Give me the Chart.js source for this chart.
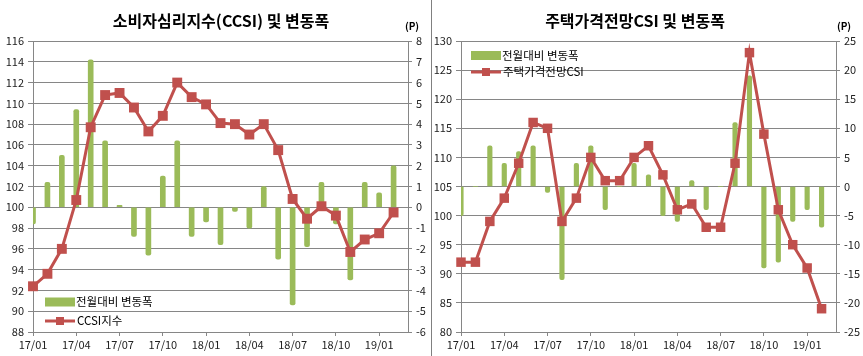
<!DOCTYPE html>
<html>
<head>
<meta charset="utf-8">
<script src="https://cdn.jsdelivr.net/npm/chart.js@4"></script>
<style>
html,body{margin:0;padding:0;background:#fff;}
#wrap{position:relative;width:863px;height:356px;overflow:hidden;background:#fff;}
#c1{position:absolute;left:0;top:0;}
#c2{position:absolute;left:432px;top:0;}
#sep{position:absolute;left:431px;top:0;width:1px;height:356px;background:#808080;}
</style>
</head>
<body>
<div id="wrap">
<canvas id="c1" width="430" height="356"></canvas>
<div id="sep"></div>
<canvas id="c2" width="431" height="356"></canvas>
</div>
<script>
// ---- data ----
const months = ['17/01','17/02','17/03','17/04','17/05','17/06','17/07','17/08','17/09','17/10','17/11','17/12',
                '18/01','18/02','18/03','18/04','18/05','18/06','18/07','18/08','18/09','18/10','18/11','18/12',
                '19/01','19/02','19/03'];
const tickLabels = ['17/01','17/04','17/07','17/10','18/01','18/04','18/07','18/10','19/01'];

const ccsiIndex = [92.4, 93.6, 96.0, 100.7, 107.7, 110.8, 111.0, 109.6, 107.3, 108.8, 112.0, 110.6,
                   109.9, 108.1, 108.0, 107.0, 108.0, 105.5, 100.8, 98.9, 100.1, 99.2, 95.7, 96.9,
                   97.5, 99.5];
const ccsiChange = [-0.8, 1.2, 2.5, 4.7, 7.1, 3.2, 0.1, -1.4, -2.3, 1.5, 3.2, -1.4,
                    -0.7, -1.8, -0.2, -1.0, 1.0, -2.5, -4.7, -1.9, 1.2, -0.8, -3.5, 1.2,
                    0.7, 2.0];

const housingIndex = [92, 92, 99, 103, 109, 116, 115, 99, 103, 110, 106, 106,
                      110, 112, 107, 101, 102, 98, 98, 109, 128, 114, 101, 95,
                      91, 84];
const housingChange = [-5, 0, 7, 4, 6, 7, -1, -16, 4, 7, -4, 0,
                       4, 2, -5, -6, 1, -4, 0, 11, 19, -14, -13, -6,
                       -4, -7];

const leftTitle = '소비자심리지수(CCSI) 및 변동폭';
const rightTitle = '주택가격전망CSI 및 변동폭';
const barLabel = '전월대비 변동폭';
const ccsiLabel = 'CCSI지수';
const housingLabel = '주택가격전망CSI';
const unitLabel = '(P)';

// ---- style ----
const GREEN = '#9BBB59';
const RED = '#C0504D';
const GRID = '#868686';
const FONT = '"Noto Sans CJK KR", "Noto Sans", sans-serif';
const tickFont = {family: FONT, size: 11};

const overlay = {
  id: 'overlay',
  afterDraw(chart, args, o) {
    const ctx = chart.ctx;
    ctx.save();
    ctx.fillStyle = '#000';
    ctx.textBaseline = 'middle';
    ctx.textAlign = 'center';
    ctx.font = 'bold 16px ' + FONT;
    ctx.fillText(o.title, o.titleX, o.titleY);
    ctx.font = 'bold 10px ' + FONT;
    ctx.fillText(unitLabel, o.unitX, o.unitY);
    // legend
    const ds = chart.data.datasets;
    const barDs = ds[1], lineDs = ds[0];
    ctx.textAlign = 'left';
    ctx.font = '11.5px ' + FONT;
    ctx.fillStyle = barDs.backgroundColor;
    ctx.fillRect(o.legX, o.legY1 - 4.5, 30, 9);
    ctx.fillStyle = '#000';
    ctx.fillText(barDs.label, o.legX + 31, o.legY1);
    ctx.strokeStyle = lineDs.borderColor;
    ctx.lineWidth = 3;
    ctx.beginPath();
    ctx.moveTo(o.legX, o.legY2);
    ctx.lineTo(o.legX + 30, o.legY2);
    ctx.stroke();
    ctx.fillStyle = lineDs.borderColor;
    ctx.fillRect(o.legX + 11, o.legY2 - 4, 8, 8);
    ctx.fillStyle = '#000';
    ctx.fillText(lineDs.label, o.legX + 32, o.legY2);
    ctx.restore();
  }
};

function xCallback(value, index) {
  const l = months[index];
  return tickLabels.includes(l) ? l : null;
}

function makeChart(id, cfg) {
  return new Chart(document.getElementById(id), {
    type: 'bar',
    data: {
      labels: months,
      datasets: [
        {
          type: 'line', label: cfg.lineLabel, data: cfg.lineData, yAxisID: 'y', order: 0,
          borderColor: RED, backgroundColor: RED, borderWidth: 3, tension: 0,
          pointStyle: 'rect', pointRadius: cfg.pointRadius, pointBackgroundColor: RED,
          pointBorderWidth: 0, clip: false
        },
        {
          type: 'bar', label: barLabel, data: cfg.barData, yAxisID: 'y1', order: 1,
          backgroundColor: GREEN, barThickness: cfg.barThickness, borderRadius: 2
        }
      ]
    },
    options: {
      responsive: false,
      animation: false,
      events: [],
      layout: {padding: {top: 41, left: 0, right: 0, bottom: 0}},
      plugins: {
        legend: {display: false},
        tooltip: {enabled: false},
        title: {display: false},
        overlay: cfg.overlay
      },
      scales: {
        x: {
          type: 'category', offset: false,
          grid: {display: true, offset: false, drawOnChartArea: false, drawTicks: true, tickLength: 4, color: GRID},
          border: {display: true, color: GRID},
          ticks: {autoSkip: false, maxRotation: 0, minRotation: 0, padding: 2, font: tickFont, color: '#222', callback: xCallback},
          afterFit: s => { s.height = 24; }
        },
        y: {
          position: 'left', min: cfg.yMin, max: cfg.yMax,
          ticks: {stepSize: cfg.yStep, padding: 4, font: tickFont, color: '#222'},
          grid: {color: GRID, tickLength: 5, drawTicks: true},
          border: {display: true, color: GRID},
          afterFit: s => { s.width = cfg.leftW; }
        },
        y1: {
          position: 'right', min: cfg.y1Min, max: cfg.y1Max,
          ticks: {stepSize: cfg.y1Step, padding: 4, font: tickFont, color: '#222'},
          grid: {drawOnChartArea: false, tickLength: 4, drawTicks: true, color: GRID},
          border: {display: true, color: GRID},
          afterFit: s => { s.width = cfg.rightW; }
        }
      }
    },
    plugins: [overlay]
  });
}

makeChart('c1', {
  lineLabel: ccsiLabel, lineData: ccsiIndex, barData: ccsiChange,
  pointRadius: 7, barThickness: 5,
  yMin: 88, yMax: 116, yStep: 2, y1Min: -6, y1Max: 8, y1Step: 1,
  leftW: 33, rightW: 22,
  overlay: {title: leftTitle, titleX: 221, titleY: 21, unitX: 412, unitY: 26, legX: 45, legY1: 302, legY2: 321}
});

makeChart('c2', {
  lineLabel: housingLabel, lineData: housingIndex, barData: housingChange,
  pointRadius: 6.7, barThickness: 4.5,
  yMin: 80, yMax: 130, yStep: 5, y1Min: -25, y1Max: 25, y1Step: 5,
  leftW: 29, rightW: 27,
  overlay: {title: rightTitle, titleX: 203, titleY: 21, unitX: 412, unitY: 26, legX: 39, legY1: 55.5, legY2: 72}
});
</script>
</body>
</html>
